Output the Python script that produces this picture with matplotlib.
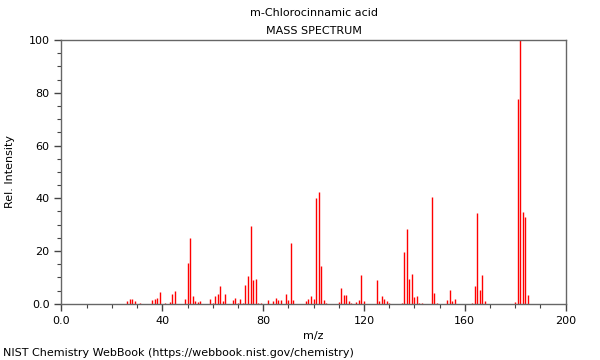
import matplotlib
matplotlib.use("Agg")
import matplotlib.pyplot as plt
from matplotlib.ticker import MultipleLocator, FuncFormatter

# m/z values and relative intensities
mz = [26, 27, 28, 29, 31, 36, 37, 38, 39, 41, 43, 44, 45,
      49, 50, 51, 52, 53, 54, 55, 59, 60, 61, 62, 63, 64, 65,
      68, 69, 70, 71, 72, 73, 74, 75, 76, 77, 78, 79,
      82, 84, 85, 86, 87, 89, 90, 91, 92,
      97, 98, 99, 100, 101, 102, 103, 104, 105,
      109, 110, 111, 112, 113, 114, 115, 117, 118, 119, 120,
      125, 126, 127, 128, 129, 130,
      135, 136, 137, 138, 139, 140, 141, 142, 143,
      147, 148, 149, 153, 154, 155, 156,
      163, 164, 165, 166, 167, 168,
      180, 181, 182, 183, 184, 185]
intensity = [0.9, 2.0, 2.0, 0.9, 0.3, 1.3, 1.9, 2.4, 4.3, 0.5, 0.8, 3.8, 4.8,
             2.0, 15.4, 25.1, 2.8, 1.0, 0.8, 0.9, 1.8, 0.5, 2.8, 3.8, 6.9, 1.0, 3.8,
             1.4, 2.3, 0.5, 2.0, 0.5, 7.2, 10.7, 29.5, 9.1, 9.5, 0.5, 0.4,
             1.3, 0.9, 2.4, 1.3, 1.3, 3.7, 1.6, 23.1, 1.6,
             0.9, 2.0, 2.8, 2.0, 40.0, 42.3, 14.3, 1.3, 0.5,
             0.1, 0.6, 5.9, 3.4, 3.4, 1.1, 0.5, 0.8, 1.6, 11.1, 0.9,
             9.0, 1.1, 3.0, 1.8, 0.9, 0.5,
             0.4, 19.6, 28.4, 9.5, 11.4, 2.5, 2.8, 0.5, 0.5,
             40.4, 4.2, 0.5, 1.6, 5.3, 1.1, 1.9,
             0.5, 6.6, 34.3, 5.4, 11.1, 1.1,
             0.6, 77.7, 100.0, 34.7, 32.8, 3.2]

compound = "m-Chlorocinnamic acid"
source = "NIST Chemistry WebBook (https://webbook.nist.gov/chemistry)"

fig = plt.figure(figsize=(6, 3.6), dpi=100)
ax = fig.add_axes([0.1025, 0.156, 0.84, 0.733])

ax.vlines(mz, 0, intensity, colors="#ff0000", lw=1.0)

ax.set_xlim(0, 200)
ax.set_ylim(0, 100)
ax.xaxis.set_major_locator(MultipleLocator(40))
ax.xaxis.set_minor_locator(MultipleLocator(10))
ax.yaxis.set_major_locator(MultipleLocator(20))
ax.yaxis.set_minor_locator(MultipleLocator(5))
fmt = FuncFormatter(lambda v, p: "0.0" if v == 0 else "%d" % v)
ax.xaxis.set_major_formatter(fmt)
ax.yaxis.set_major_formatter(fmt)
ax.tick_params(which="major", length=5, width=1, colors="#444444", labelsize=8, labelcolor="black")
ax.tick_params(which="minor", length=3, width=0.8, colors="#444444")
for s in ax.spines.values():
    s.set_color("#666666")
    s.set_linewidth(1)

ax.set_xlabel("m/z", fontsize=8)
ax.set_ylabel("Rel. Intensity", fontsize=8, labelpad=10)

cx = 0.1025 + 0.84 / 2
fig.text(cx, 0.963, compound, ha="center", va="center", fontsize=8)
fig.text(cx, 0.915, "MASS SPECTRUM", ha="center", va="center", fontsize=8)
fig.text(0.005, 0.02, source, ha="left", va="center", fontsize=8)

fig.savefig("out.png", dpi=100)
